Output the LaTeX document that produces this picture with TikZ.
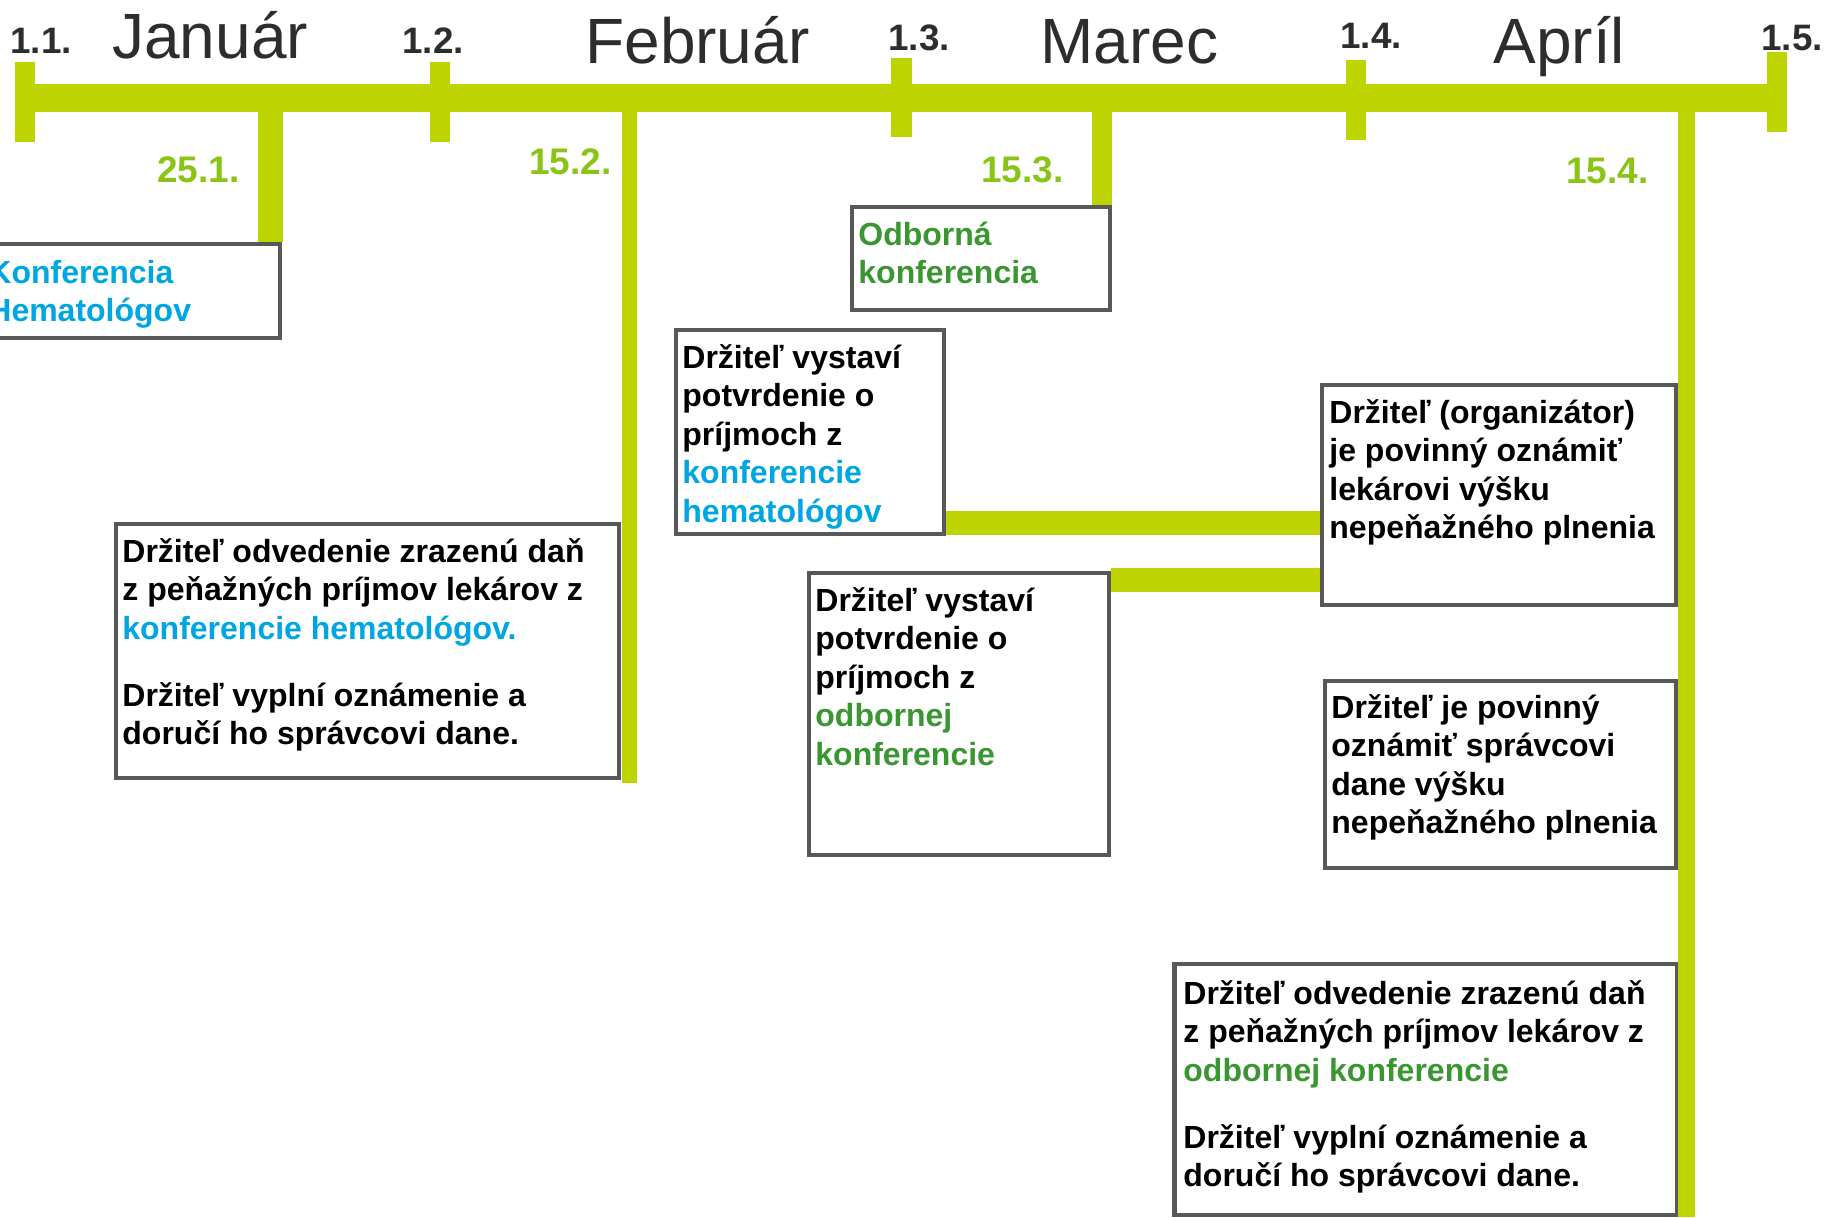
\documentclass[tikz,border=0pt]{standalone}
\usepackage{fontspec}
\setmainfont{Liberation Sans}
\usetikzlibrary{fit}
\definecolor{lime}{RGB}{190,212,0}
\definecolor{datec}{RGB}{138,196,22}
\definecolor{hemablue}{RGB}{0,166,226}
\definecolor{odbgreen}{RGB}{58,150,48}
\definecolor{frame}{RGB}{88,88,88}
\definecolor{ink}{RGB}{45,45,45}
\tikzset{
  tlbar/.style={draw=lime, line width=14pt, line cap=butt},
  monthtick/.style={draw=lime, line width=10.25pt, line cap=butt},
  conn/.style={draw=lime, line width=12pt, line cap=butt},
  boxframe/.style={draw=frame, line width=2.4pt, fill=white, inner sep=0pt},
  ticklabel/.style={font=\bfseries\fontsize{18.4}{22}\selectfont, text=ink, anchor=base west, inner sep=0pt},
  monthlabel/.style={font=\fontsize{32}{38}\selectfont, text=ink, anchor=base west, inner sep=0pt},
  datelabel/.style={font=\bfseries\fontsize{18.5}{22}\selectfont, text=datec, anchor=base west, inner sep=0pt},
  boxtext/.style={font=\bfseries\fontsize{16}{19.25}\selectfont, align=left, anchor=north west, inner sep=0pt}
}
\newcommand{\topstrut}{\rule{0pt}{16pt}}
\begin{document}
\begin{tikzpicture}[x=0.5pt, y=-0.5pt]
\useasboundingbox (0,0) rectangle (1825,1217);
% timeline
\coordinate (tlL) at (14.5,98);
\coordinate (tlR) at (1787,98);
\draw[tlbar] (tlL) -- (tlR);
\coordinate (m1t) at (25,62);  \coordinate (m1b) at (25,142);
\coordinate (m2t) at (440,62); \coordinate (m2b) at (440,142);
\coordinate (m3t) at (901.5,58); \coordinate (m3b) at (901.5,137);
\coordinate (m4t) at (1356,60); \coordinate (m4b) at (1356,140);
\coordinate (m5t) at (1777,52); \coordinate (m5b) at (1777,132);
\draw[monthtick] (m1t) -- (m1b);
\draw[monthtick] (m2t) -- (m2b);
\draw[monthtick] (m3t) -- (m3b);
\draw[monthtick] (m4t) -- (m4b);
\draw[monthtick] (m5t) -- (m5b);
% boxes
\node[boxframe, fit={(-10,244) (280,338)}] (boxA) {};
\node[boxframe, fit={(852,207) (1110,310)}] (boxB) {};
\node[boxframe, fit={(676,330) (944,534)}] (boxC) {};
\node[boxframe, fit={(116,524) (619,778)}] (boxD) {};
\node[boxframe, fit={(809,573) (1109,855)}] (boxE) {};
\node[boxframe, fit={(1322,385) (1676,605)}] (boxF) {};
\node[boxframe, fit={(1325,681) (1676,868)}] (boxG) {};
\node[boxframe, fit={(1174.5,964) (1677,1215)}] (boxH) {};
% date lines
\coordinate (d1) at (270,98);
\coordinate (d2) at (629.5,98);
\coordinate (d3) at (1102,98);
\coordinate (d4) at (1686,98);
\coordinate (d2end) at (629.5,783);
\coordinate (d4end) at (1686,1217);
\draw[draw=lime, line width=12.5pt] (d1) -- (d1 |- boxA.north);
\draw[draw=lime, line width=7.5pt] (d2) -- (d2end);
\draw[draw=lime, line width=10pt] (d3) -- (d3 |- boxB.north);
\draw[draw=lime, line width=8.5pt] (d4) -- (d4end);
% connectors
\draw[conn] (boxC.east |- 0,523) -- (boxF.west |- 0,523);
\draw[conn] (boxE.east |- 0,580) -- (boxF.west |- 0,580);
% tick labels
\node[ticklabel] (l11) at (10,53) {1.1.};
\node[ticklabel] (l12) at (402,53) {1.2.};
\node[ticklabel] (l13) at (888,50) {1.3.};
\node[ticklabel] (l14) at (1340,48) {1.4.};
\node[ticklabel] (l15) at (1761,50) {1.5.};
% month labels
\node[monthlabel] (jan) at (112,58) {Január};
\node[monthlabel] (feb) at (585,63) {Február};
\node[monthlabel] (mar) at (1040,63) {Marec};
\node[monthlabel] (apr) at (1493,63) {Apríl};
% date labels
\node[datelabel] (t251) at (157,182) {25.1.};
\node[datelabel] (t152) at (529,174) {15.2.};
\node[datelabel] (t153) at (981,182) {15.3.};
\node[datelabel] (t154) at (1566,183) {15.4.};
% box texts
\node[boxtext, text=hemablue] (txA) at (-12,251) {\topstrut Konferencia\\Hematológov};
\node[boxtext, text=odbgreen] (txB) at (858,213) {\topstrut Odborná\\konferencia};
\node[boxtext] (txC) at (682,336) {\topstrut Držiteľ vystaví\\potvrdenie o\\príjmoch z\\\textcolor{hemablue}{konferencie}\\\textcolor{hemablue}{hematológov}};
\node[boxtext] (txD) at (122,530) {\topstrut Držiteľ odvedenie zrazenú daň\\z peňažných príjmov lekárov z\\\textcolor{hemablue}{konferencie hematológov.}\\[14.25pt]Držiteľ vyplní oznámenie a\\doručí ho správcovi dane.};
\node[boxtext] (txE) at (815,579) {\topstrut Držiteľ vystaví\\potvrdenie o\\príjmoch z\\\textcolor{odbgreen}{odbornej}\\\textcolor{odbgreen}{konferencie}};
\node[boxtext] (txF) at (1329,391) {\topstrut Držiteľ (organizátor)\\je povinný oznámiť\\lekárovi výšku\\nepeňažného plnenia};
\node[boxtext] (txG) at (1331,686) {\topstrut Držiteľ je povinný\\oznámiť správcovi\\dane výšku\\nepeňažného plnenia};
\node[boxtext] (txH) at (1183,972) {\topstrut Držiteľ odvedenie zrazenú daň\\z peňažných príjmov lekárov z\\\textcolor{odbgreen}{odbornej konferencie}\\[14.25pt]Držiteľ vyplní oznámenie a\\doručí ho správcovi dane.};
\end{tikzpicture}
\end{document}
